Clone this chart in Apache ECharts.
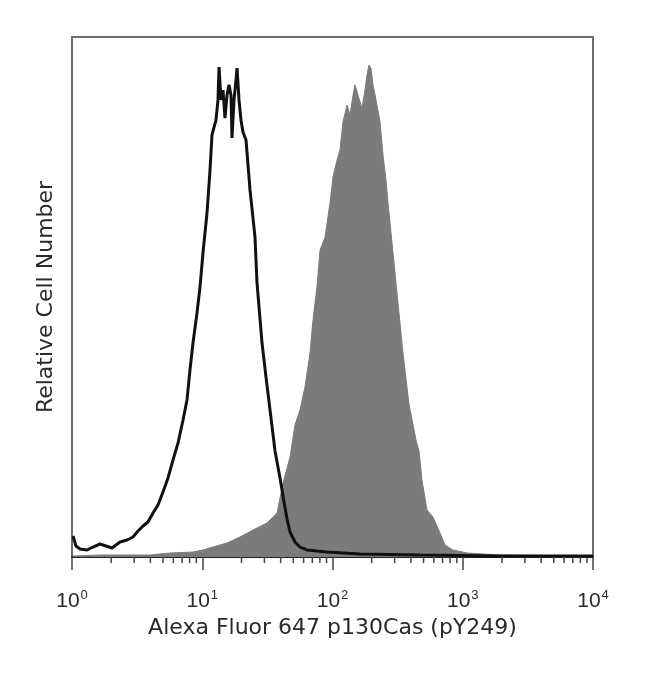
<!DOCTYPE html>
<html>
<head>
<meta charset="utf-8">
<script src="https://cdn.jsdelivr.net/npm/echarts@6/dist/echarts.min.js"></script>
<style>html,body{margin:0;padding:0;background:#fff}#c{width:650px;height:676px}</style>
</head>
<body>
<div id="c"></div>
<script>
// Unstained / isotype control (open black histogram): [intensity, relative count]
var controlX = [1.018,1.073,1.152,1.304,1.449,1.641,1.824,2.028,2.336,2.644,2.940,3.212,3.509,3.832,4.187,4.574,4.995,5.458,5.963,6.513,7.116,7.636,8.05,8.49,9.11,9.61,10.13,10.88,11.47,11.88,12.75,13.21,13.45,13.69,13.93,14.43,14.95,15.49,16.05,16.62,16.92,17.53,18.16,18.49,18.81,19.15,19.84,20.56,21.67,22.45,23.26,25.41,26.33,28.76,30.86,33.13,36.19,39.54,42.43,44.74,47.18,51.54,56.30,63.7,76.0,90.7,162.6,469.9,1932,10000];
var controlY = [4.04,2.12,1.54,1.35,1.92,2.50,2.12,1.73,2.88,3.27,3.85,5.0,5.96,6.73,8.46,10.0,12.5,15.2,18.65,21.9,26.3,30.2,35.96,41.15,46.9,51.9,58.5,66.2,74.4,81.2,84.0,87.9,94.2,94.2,87.9,89.8,84.4,88.8,90.8,88.8,80.6,87.9,91.7,94.0,94.0,87.9,84.0,81.7,80.2,75.4,70.6,61.5,52.7,41.2,34.6,28.3,20.4,15.2,10.6,7.31,4.81,2.88,1.92,1.35,1.15,0.96,0.58,0.38,0.19,0.19];

// Stained sample (filled grey histogram)
var stainedX = [1.018,1.641,3.97,5.65,8.49,10.13,12.09,15.49,19.49,24.53,31.41,37.49,41.69,47.18,51.54,56.30,61.5,67.2,70.85,76.0,80.2,87.6,95.7,100.9,108.3,114.2,120.4,126.9,129.2,136.2,143.7,148.8,156.9,168.5,177.6,184.0,190.6,197.5,204.6,215.8,231.6,244.2,257.5,266.8,291.4,318.4,347.8,386.6,437.5,461.4,486.4,531.6,591.0,668.9,730.6,841.8,1078,1932,10000];
var stainedY = [0.19,0.38,0.38,0.77,0.96,1.35,1.92,2.69,3.85,5.19,6.54,8.46,14.2,19.2,25.4,28.3,32.7,39.2,45.6,51.9,59.0,61.5,68.1,73.1,76.3,78.3,83.7,86.0,86.9,85.0,88.8,90.8,88.8,86.3,89.8,92.7,94.6,94.0,90.8,87.9,83.7,77.3,72.5,68.1,58.5,48.8,39.2,29.4,22.5,20.4,14.8,9.04,7.69,4.62,2.31,1.35,0.77,0.38,0.19];

// Minor tick positions on the log axis
var minorTicks = [2,3,4,5,6,7,8,9,20,30,40,50,60,70,80,90,200,300,400,500,600,700,800,900,2000,3000,4000,5000,6000,7000,8000,9000];

var xAxisTitle = 'Alexa Fluor 647 p130Cas (pY249)';
var yAxisTitle = 'Relative Cell Number';

function zip(a, b) { return a.map(function (v, i) { return [v, b[i]]; }); }

var chart = echarts.init(document.getElementById('c'), null, {renderer: 'canvas'});
var tickFont = 'Liberation Sans, Arial, sans-serif';
var titleFont = 'DejaVu Sans, sans-serif';
chart.setOption({
  animation: false,
  backgroundColor: '#fff',
  grid: {left: 72, right: 57, top: 37, bottom: 119, show: true, borderColor: '#6e6e6e', borderWidth: 2, backgroundColor: 'transparent'},
  xAxis: {
    type: 'log', logBase: 10, min: 1, max: 10000,
    name: xAxisTitle, nameLocation: 'middle', nameGap: 54,
    nameTextStyle: {fontFamily: titleFont, fontSize: 22, color: '#2a2a2a'},
    axisLine: {show: true, lineStyle: {color: '#222', width: 2}},
    axisTick: {show: true, inside: false, length: 13, lineStyle: {color: '#444', width: 1.5}},
    splitLine: {show: false},
    axisLabel: {
      margin: 32,
      formatter: function (v) { return '{b|10}{s|' + Math.round(Math.log10(v)) + '}'; },
      rich: {
        b: {fontFamily: tickFont, fontSize: 21, color: '#2a2a2a', verticalAlign: 'bottom'},
        s: {fontFamily: tickFont, fontSize: 13, color: '#2a2a2a', verticalAlign: 'top', padding: [0, 0, 10, 1]}
      }
    }
  },
  yAxis: {
    type: 'value', min: 0, max: 100,
    name: yAxisTitle, nameLocation: 'middle', nameGap: 15, nameRotate: 90,
    nameTextStyle: {fontFamily: titleFont, fontSize: 22, color: '#2a2a2a'},
    axisLine: {show: false}, axisTick: {show: false}, axisLabel: {show: false}, splitLine: {show: false}
  },
  series: [
    {
      type: 'line', data: zip(stainedX, stainedY), showSymbol: false, symbol: 'none',
      lineStyle: {color: '#7b7b7b', width: 1},
      areaStyle: {color: '#7b7b7b', opacity: 1},
      z: 2
    },
    {
      type: 'line', data: zip(controlX, controlY), showSymbol: false, symbol: 'none',
      lineStyle: {color: '#111', width: 3},
      z: 3
    },
    {
      type: 'custom', clip: false, silent: true, z: 4,
      data: minorTicks.map(function (v) { return [v, 0]; }),
      renderItem: function (params, api) {
        var p = api.coord([api.value(0), 0]);
        return {type: 'line', shape: {x1: p[0], y1: p[1], x2: p[0], y2: p[1] + 6}, style: {stroke: '#444', lineWidth: 1.5}};
      }
    }
  ]
});
</script>
</body>
</html>
